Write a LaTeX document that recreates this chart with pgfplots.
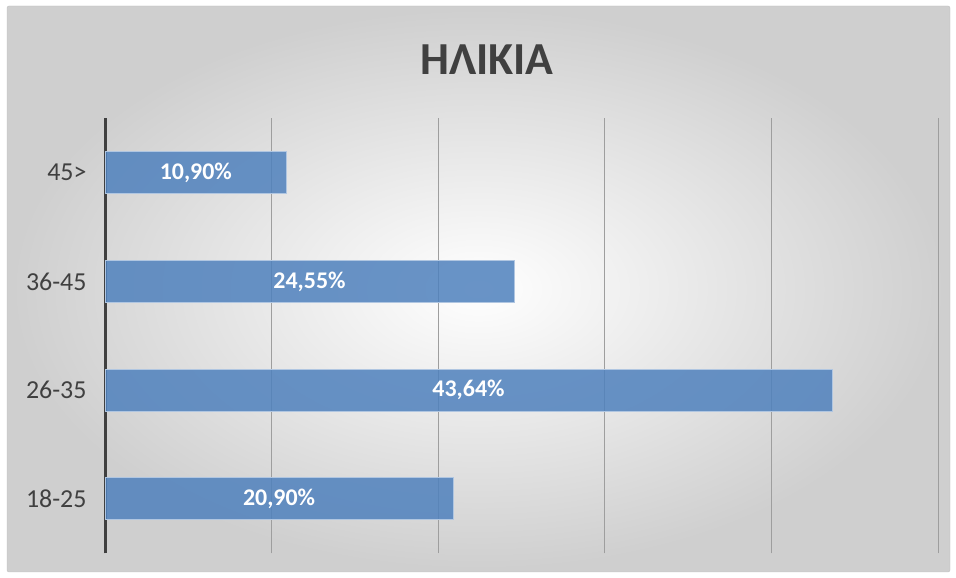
\documentclass[border=0pt]{standalone}
\usepackage{fontspec}
\setmainfont{Carlito}
\usepackage{pgfplots}
\pgfplotsset{compat=1.18}
\definecolor{barblue}{RGB}{79,129,189}
\definecolor{txtgray}{RGB}{64,64,64}
\begin{document}
\begin{tikzpicture}[x=1bp,y=1bp]
\useasboundingbox (0,0) rectangle (956,578);
\shadedraw[inner color=white, outer color=black!19, draw=black!25, rounded corners=2bp] (7,6) rectangle (950,572);
\node[font=\fontsize{46}{46}\selectfont\bfseries, text=txtgray] at (487,518) {ΗΛΙΚΙΑ};
\begin{axis}[at={(105bp,79bp)}, anchor=origin, scale only axis,
  width=833bp, height=435bp,
  xmin=0, xmax=50, ymin=-0.5, ymax=3.5,
  xtick={10,20,30,40,50}, xticklabels={},
  ytick={0,1,2,3}, yticklabels={18-25,26-35,36-45,45>},
  xmajorgrids, major grid style={black!38, line width=0.8bp},
  major tick length=0, axis line style={draw=none},
  extra x ticks={0}, extra x tick labels={},
  extra x tick style={xmajorgrids=true, major grid style={txtgray, line width=3bp}},
  yticklabel style={font=\fontsize{26}{26}\selectfont, text=txtgray, xshift=-15bp},
  clip=false]
\addplot[xbar, bar width=42bp, fill=barblue, fill opacity=0.85,
  draw=barblue!45!white, line width=1bp,
  point meta=explicit symbolic,
  visualization depends on={x \as \rawx},
  nodes near coords,
  nodes near coords style={anchor=center, xshift={-8.33bp*\rawx}, text=white, text opacity=1,
    font=\fontsize{24}{24}\selectfont\bfseries}]
  coordinates {(20.90,0) [20,90\%] (43.64,1) [43,64\%] (24.55,2) [24,55\%] (10.90,3) [10,90\%]};
\end{axis}
\end{tikzpicture}
\end{document}
